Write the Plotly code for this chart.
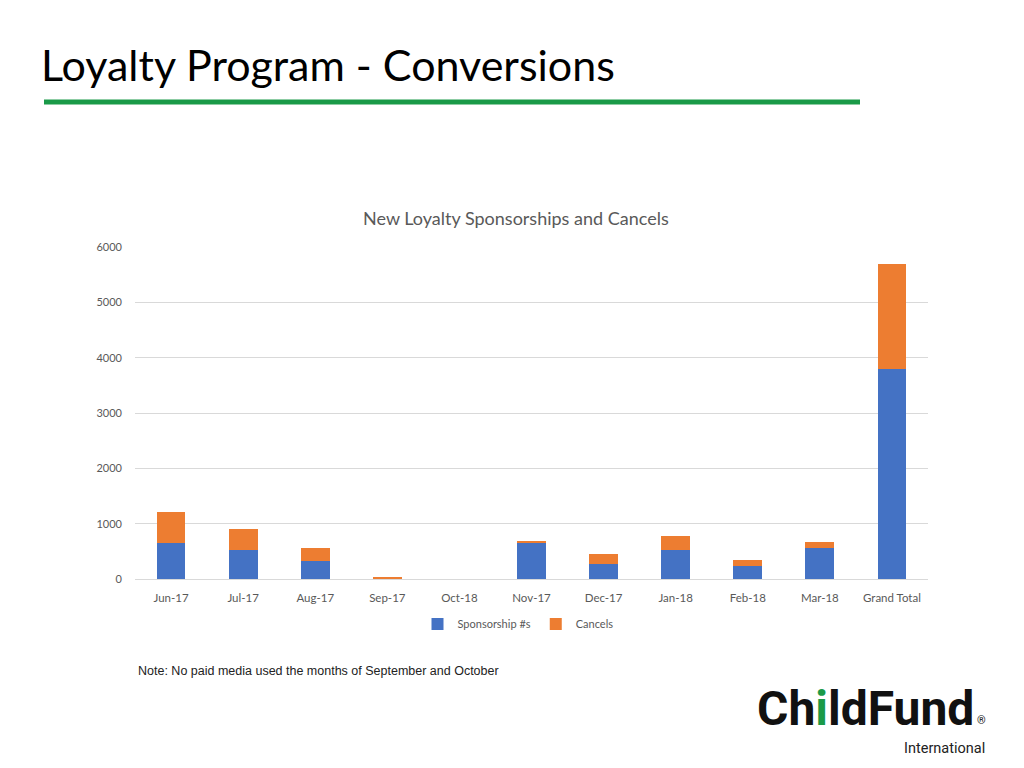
import plotly.graph_objects as go

categories = ["Jun-17", "Jul-17", "Aug-17", "Sep-17", "Oct-18", "Nov-17",
              "Dec-17", "Jan-18", "Feb-18", "Mar-18", "Grand Total"]
sponsorships = [645, 520, 320, 5, 0, 645, 265, 530, 228, 553, 3795]
cancels = [560, 385, 248, 20, 0, 48, 180, 253, 115, 121, 1905]
y_ticks = [0, 1000, 2000, 3000, 4000, 5000, 6000]

OFF = 8  # page body margin
W, H = 1024 - OFF, 768 - OFF
# plot area in page pixels
L, R, T, B = 135, 928, 247, 579
def px(x): return (x - L) / (R - L)
def py(y): return (B - y) / (B - T)

fig = go.Figure()
fig.add_trace(go.Bar(x=categories, y=sponsorships, name="Sponsorship #s",
                     marker=dict(color="#4472C4", line=dict(width=0))))
fig.add_trace(go.Bar(x=categories, y=cancels, name="Cancels",
                     marker=dict(color="#ED7D31", line=dict(width=0))))

font_main = "Lato, Open Sans, sans-serif"

fig.update_layout(
    barmode="stack",
    bargap=0.6,
    width=W, height=H, autosize=False,
    margin=dict(l=L - OFF, r=W - (R - OFF), t=T - OFF, b=H - (B - OFF), pad=0),
    paper_bgcolor="white", plot_bgcolor="white",
    font=dict(family=font_main, color="#595959", size=11),
    xaxis=dict(showgrid=False, showline=True, linecolor="#d9d9d9", linewidth=1,
               ticks="", tickfont=dict(size=11.5, color="#595959"), ticklabelstandoff=8,
               fixedrange=True),
    yaxis=dict(range=[0, 6000], tickvals=y_ticks, showgrid=True, gridcolor="#d9d9d9",
               gridwidth=1, zeroline=False, showline=False, ticks="",
               tickfont=dict(size=11, color="#595959"), ticklabelstandoff=12),
    legend=dict(orientation="h", x=px(518), y=py(624), xanchor="center", yanchor="middle",
                font=dict(size=11, color="#595959"), itemwidth=30, traceorder="normal",
                bgcolor="rgba(0,0,0,0)"),
    showlegend=True,
)

annotations = [
    dict(text="Loyalty Program - Conversions", x=px(39), y=py(64), xanchor="left",
         yanchor="middle", font=dict(family="Lato, sans-serif", size=43, color="#000000")),
    dict(text="New Loyalty Sponsorships and Cancels", x=px(516), y=py(218),
         xanchor="center", yanchor="middle", font=dict(size=18, color="#595959")),
    dict(text="Note: No paid media used the months of September and October", x=px(136),
         y=py(671), xanchor="left", yanchor="middle",
         font=dict(family="Liberation Sans, Arial, sans-serif", size=12.5, color="#222222")),
    dict(text="<b>Ch<span style='color:#1a9a48'>i</span>ldFund</b>", x=px(756), y=py(708),
         xanchor="left", yanchor="middle", borderpad=0,
         font=dict(family="Roboto, sans-serif", size=48, color="#111111")),
    dict(text="®", x=px(982), y=py(720), xanchor="center", yanchor="middle",
         font=dict(family="Roboto, sans-serif", size=11, color="#111111")),
    dict(text="International", x=px(986), y=py(748), xanchor="right", yanchor="middle",
         borderpad=0, font=dict(family="Roboto, sans-serif", size=14.5, color="#222222")),
]
for a in annotations:
    a.update(xref="paper", yref="paper", showarrow=False)
fig.update_layout(annotations=annotations)

fig.add_shape(type="line", xref="paper", yref="paper", x0=px(44), x1=px(860),
              y0=py(102), y1=py(102), line=dict(color="#1a9a48", width=5))

fig.write_html("out.html")
